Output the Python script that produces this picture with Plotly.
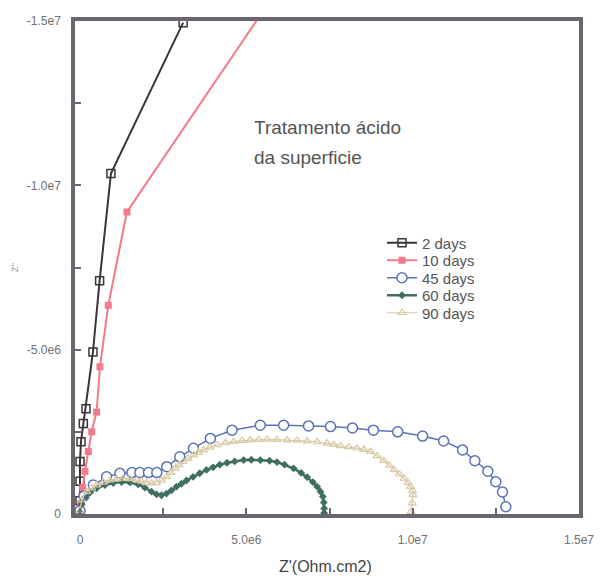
import plotly.graph_objects as go

# ---- data (Z' and Z'' in units of 1e6 Ohm.cm2; Z'' stored as plotted, negative) ----
labels = ["2 days", "10 days", "45 days", "60 days", "90 days"]

d2_x = [0.0, 0.0, 0.0, 0.03, 0.10, 0.18, 0.39, 0.59, 0.93, 3.10]
d2_y = [-0.4, -1.0, -1.6, -2.2, -2.75, -3.2, -4.93, -7.1, -10.36, -14.95]

d10_x = [0.02, 0.08, 0.15, 0.25, 0.35, 0.50, 0.60, 0.85, 1.41, 5.97]
d10_y = [-0.3, -0.8, -1.3, -1.9, -2.5, -3.1, -4.48, -6.35, -9.19, -16.0]

d45_x = [0.0, 0.12, 0.40, 0.80, 1.20, 1.56, 1.80, 2.06, 2.31, 2.61, 3.00, 3.41,
         3.92, 4.57, 5.42, 6.12, 6.87, 7.53, 8.19, 8.82, 9.55, 10.30, 10.93,
         11.50, 11.87, 12.26, 12.50, 12.70, 12.80]
d45_y = [-0.1, -0.55, -0.88, -1.13, -1.24, -1.26, -1.26, -1.26, -1.26, -1.44, -1.74, -2.0,
         -2.3, -2.55, -2.7, -2.7, -2.68, -2.66, -2.62, -2.55, -2.5, -2.37, -2.22,
         -1.95, -1.62, -1.3, -0.98, -0.67, -0.22]

d60_x = [0.0, 0.05, 0.15, 0.30, 0.50, 0.75, 1.00, 1.25, 1.50, 1.75, 1.95, 2.15, 2.30,
         2.45, 2.60, 2.75, 2.90, 3.05, 3.20, 3.40, 3.60, 3.80, 4.00, 4.20, 4.42,
         4.65, 4.92, 5.15, 5.42, 5.70, 5.92, 6.15, 6.42, 6.65, 6.83, 7.00, 7.13,
         7.23, 7.30, 7.33, 7.34, 7.34]
d60_y = [-0.05, -0.3, -0.5, -0.65, -0.78, -0.88, -0.94, -0.97, -0.96, -0.9, -0.8, -0.68, -0.6,
         -0.57, -0.62, -0.72, -0.83, -0.92, -1.02, -1.13, -1.24, -1.34, -1.42, -1.5, -1.56,
         -1.6, -1.64, -1.65, -1.64, -1.62, -1.58, -1.5, -1.39, -1.25, -1.12, -0.97, -0.83,
         -0.68, -0.53, -0.35, -0.17, -0.03]

d90_x = [0.0, 0.05, 0.20, 0.35, 0.50, 0.70, 0.90, 1.10, 1.30, 1.50, 1.70, 1.85, 2.00,
         2.15, 2.30, 2.45, 2.60, 2.73, 2.86, 2.98, 3.10, 3.25, 3.41, 3.56, 3.71,
         3.90, 4.12, 4.37, 4.62, 4.87, 5.12, 5.37, 5.62, 5.92, 6.23, 6.53, 6.83,
         7.13, 7.43, 7.63, 7.83, 8.08, 8.33, 8.53, 8.73, 8.93, 9.13, 9.30, 9.44,
         9.60, 9.74, 9.86, 9.94, 10.00, 10.01, 9.99, 9.95]
d90_y = [-0.1, -0.43, -0.68, -0.79, -0.88, -0.96, -1.03, -1.06, -1.08, -1.07, -1.03, -0.99, -0.95,
         -0.94, -0.95, -1.02, -1.13, -1.26, -1.39, -1.49, -1.59, -1.69, -1.79, -1.87, -1.95,
         -2.03, -2.1, -2.16, -2.2, -2.23, -2.25, -2.26, -2.27, -2.26, -2.25, -2.24, -2.22,
         -2.19, -2.15, -2.11, -2.07, -2.04, -2.0, -1.96, -1.9, -1.77, -1.62, -1.48, -1.34,
         -1.21, -1.08, -0.95, -0.83, -0.7, -0.58, -0.33, -0.07]

x_ticks = [0, 2.5e6, 5e6, 7.5e6, 1e7, 1.25e7, 1.5e7]
x_ticktext = ["0", "", "5.0e6", "", "1.0e7", "", "1.5e7"]
y_ticks = [0, -2.5e6, -5e6, -7.5e6, -1e7, -1.25e7, -1.5e7]
y_ticktext = ["0", "", "-5.0e6", "", "-1.0e7", "", "-1.5e7"]

SCALE = 1e6
def sc(v):
    return [a * SCALE for a in v]

FONT = "Liberation Sans, Arial"
fig = go.Figure()

fig.add_trace(go.Scatter(x=sc(d2_x), y=sc(d2_y), name=labels[0], mode="lines+markers",
                         legend="legend",
                         line=dict(color="#3b3539", width=2),
                         marker=dict(symbol="square-open", size=8, color="#3b3539",
                                     line=dict(width=1.5))))
fig.add_trace(go.Scatter(x=sc(d10_x), y=sc(d10_y), name=labels[1], mode="lines+markers",
                         legend="legend2",
                         line=dict(color="#f27a8a", width=2),
                         marker=dict(symbol="square", size=7, color="#f27a8a")))
fig.add_trace(go.Scatter(x=sc(d45_x), y=sc(d45_y), name=labels[2], mode="lines+markers",
                         legend="legend3",
                         line=dict(color="#5b72b6", width=1.5),
                         marker=dict(symbol="circle", size=10, color="white",
                                     line=dict(color="#5b72b6", width=1.5))))
fig.add_trace(go.Scatter(x=sc(d60_x), y=sc(d60_y), name=labels[3], mode="lines+markers",
                         legend="legend4",
                         line=dict(color="#3f6e63", width=2.5),
                         marker=dict(symbol="diamond", size=6, color="#3f6e63")))
fig.add_trace(go.Scatter(x=sc(d90_x), y=sc(d90_y), name=labels[4], mode="lines+markers",
                         legend="legend5",
                         line=dict(color="#d8c9a4", width=1.2),
                         marker=dict(symbol="triangle-up-open", size=7, color="#d8c9a4",
                                     line=dict(width=1.2))))

L, R, T, B = 75, 579, 21, 514
W, H = 614, 588
def px(xp):
    return (xp - L) / (R - L)
def py(yp):
    return (B - yp) / (B - T)

axis_common = dict(showline=True, mirror=True, linecolor="#6b6570", linewidth=3.5,
                   showgrid=False, zeroline=False, ticks="inside", ticklen=6,
                   tickcolor="#6b6570", tickwidth=1.5,
                   tickfont=dict(family=FONT, size=12, color="#707070"))

def leg(yc):
    return dict(x=px(382), y=py(yc), xanchor="left", yanchor="middle",
                bgcolor="rgba(0,0,0,0)",
                font=dict(family=FONT, size=15, color="#555555"))

fig.update_layout(
    width=W, height=H,
    margin=dict(l=L, r=W - R, t=T, b=H - B),
    paper_bgcolor="white", plot_bgcolor="white",
    xaxis=dict(range=[-0.15e6, 1.5e7], tickvals=x_ticks, ticktext=x_ticktext,
               ticklabelstandoff=12, **axis_common),
    yaxis=dict(range=[0, -1.5e7], tickvals=y_ticks, ticktext=y_ticktext,
               ticklabelstandoff=8, **axis_common),
    showlegend=True,
    legend=leg(243), legend2=leg(260.5), legend3=leg(278), legend4=leg(295.5), legend5=leg(313),
    font=dict(family=FONT),
)

fig.add_annotation(x=px(252), y=py(128), xref="paper", yref="paper", text="Tratamento ácido",
                   showarrow=False, xanchor="left", yanchor="middle",
                   font=dict(family=FONT, size=19, color="#555555"))
fig.add_annotation(x=px(252), y=py(158), xref="paper", yref="paper", text="da superficie",
                   showarrow=False, xanchor="left", yanchor="middle",
                   font=dict(family=FONT, size=19, color="#555555"))
fig.add_annotation(x=px(325), y=py(566), xref="paper", yref="paper", text="Z'(Ohm.cm2)",
                   showarrow=False, xanchor="center", yanchor="middle",
                   font=dict(family=FONT, size=16, color="#444444"))
fig.add_annotation(x=px(15), y=py(268), xref="paper", yref="paper", text="Z''",
                   showarrow=False, xanchor="center", yanchor="middle", textangle=-90,
                   font=dict(family=FONT, size=9, color="#999999"))

fig.write_html("out.html")
